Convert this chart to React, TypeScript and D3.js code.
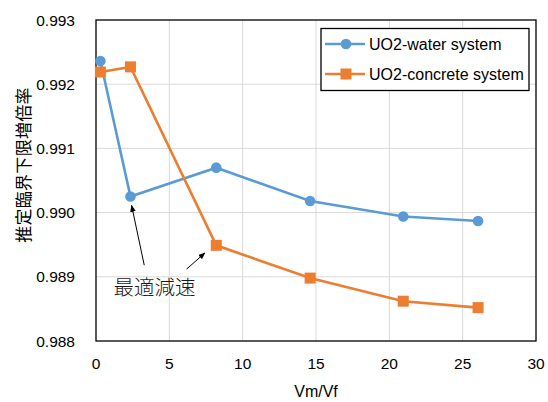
import React from 'react';
import * as d3 from 'd3';

const vmvf = [0.3, 2.35, 8.2, 14.6, 20.95, 26.05];
const waterKeff = [0.99236, 0.99025, 0.9907, 0.99018, 0.98994, 0.98987];
const concreteKeff = [0.99219, 0.99227, 0.98949, 0.98898, 0.98862, 0.98852];
const xTicks = [0, 5, 10, 15, 20, 25, 30];
const yTicks = [0.988, 0.989, 0.99, 0.991, 0.992, 0.993];
const seriesNames = ['UO2-water system', 'UO2-concrete system'];
const seriesColors = ['#5b9bd5', '#ed7d31'];
// annotation arrows in data units: [tailX, tailY, tipX, tipY]
const arrows = [
  [3.29, 0.98918, 2.43, 0.99011],
  [6.18, 0.98912, 7.42, 0.98937],
];
const noteText = '最適減速';
const notePos = [1.2, 0.98871];

const W = 548, H = 402;
const margin = {left: 96, right: 12, top: 20, bottom: 61};
const font = '"Liberation Sans", Arial, sans-serif';
const cjk = '"Noto Sans CJK JP", sans-serif';

const App = () => {
  const x = d3.scaleLinear().domain([0, 30]).range([margin.left, W - margin.right]);
  const y = d3.scaleLinear().domain([0.988, 0.993]).range([H - margin.bottom, margin.top]);
  const line = d3.line<[number, number]>().x(d => x(d[0])).y(d => y(d[1]));
  const water = vmvf.map((v, i) => [v, waterKeff[i]] as [number, number]);
  const concrete = vmvf.map((v, i) => [v, concreteKeff[i]] as [number, number]);
  const fmt = d3.format('.3f');
  const [x0, x1] = x.range();
  const [y0, y1] = y.range();

  return (
    <svg width={W} height={H} style={{position: 'absolute', left: 0, top: 0, background: '#fff'}}>
      <defs>
        <marker id="ah" viewBox="0 0 10 10" refX="9" refY="5" markerWidth="7" markerHeight="7" orient="auto">
          <path d="M0,1 L10,5 L0,9 z" fill="#000" />
        </marker>
      </defs>
      {xTicks.slice(1, -1).map(t => (
        <line key={'gx' + t} x1={x(t)} x2={x(t)} y1={y1} y2={y0} stroke="#d9d9d9" strokeWidth={1} />
      ))}
      {yTicks.slice(1, -1).map(t => (
        <line key={'gy' + t} x1={x0} x2={x1} y1={y(t)} y2={y(t)} stroke="#d9d9d9" strokeWidth={1} />
      ))}
      <rect x={x0} y={y1} width={x1 - x0} height={y0 - y1} fill="none" stroke="#000" strokeWidth={1.3} />
      {xTicks.map(t => (
        <text key={'xt' + t} x={x(t)} y={y0 + 28} textAnchor="middle" fontFamily={font} fontSize={15.5} fill="#000">{t}</text>
      ))}
      {yTicks.map(t => (
        <text key={'yt' + t} x={75} y={y(t) + 5.5} textAnchor="end" fontFamily={font} fontSize={15.5} fill="#000">{fmt(t)}</text>
      ))}
      <text x={(x0 + x1) / 2} y={397} textAnchor="middle" fontFamily={font} fontSize={16} fill="#000">Vm/Vf</text>
      <text transform={`translate(30,165) rotate(-90)`} textAnchor="middle" fontFamily={cjk} fontSize={17} letterSpacing={0.3} fill="#000">推定臨界下限増倍率</text>

      <path d={line(water) || ''} fill="none" stroke={seriesColors[0]} strokeWidth={2.6} />
      <path d={line(concrete) || ''} fill="none" stroke={seriesColors[1]} strokeWidth={2.6} />
      {water.map((d, i) => (
        <circle key={'w' + i} cx={x(d[0])} cy={y(d[1])} r={5.3} fill={seriesColors[0]} />
      ))}
      {concrete.map((d, i) => (
        <rect key={'c' + i} x={x(d[0]) - 5.5} y={y(d[1]) - 5.5} width={11} height={11} fill={seriesColors[1]} />
      ))}

      {arrows.map((a, i) => (
        <line key={'a' + i} x1={x(a[0])} y1={y(a[1])} x2={x(a[2])} y2={y(a[3])} stroke="#000" strokeWidth={1} markerEnd="url(#ah)" />
      ))}
      <text x={x(notePos[0])} y={y(notePos[1])} fontFamily={cjk} fontWeight={300} fontSize={20.5} fill="#1a1a1a">{noteText}</text>

      <g>
        <rect x={321} y={28.5} width={208} height={62} fill="#fff" stroke="#000" strokeWidth={1.3} />
        {seriesNames.map((n, i) => {
          const ly = 44 + i * 30;
          return (
            <g key={n}>
              <line x1={325} x2={365} y1={ly} y2={ly} stroke={seriesColors[i]} strokeWidth={2.6} />
              {i === 0
                ? <circle cx={346} cy={ly} r={5.3} fill={seriesColors[i]} />
                : <rect x={340.5} y={ly - 5.5} width={11} height={11} fill={seriesColors[i]} />}
              <text x={369} y={ly + 5.5} fontFamily={font} fontSize={16} fill="#000">{n}</text>
            </g>
          );
        })}
      </g>
    </svg>
  );
};

export default App;
